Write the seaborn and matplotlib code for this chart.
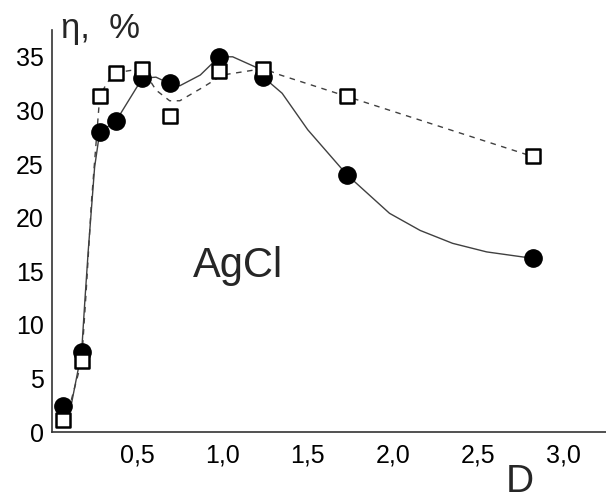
import matplotlib
matplotlib.use("Agg")
import matplotlib.pyplot as plt
import seaborn as sns
import pandas as pd

sns.set_style("white")
plt.rcParams['font.family'] = ['Liberation Sans', 'DejaVu Sans']

# measured points
d_pts = [0.063, 0.174, 0.28, 0.375, 0.53, 0.69, 0.98, 1.24, 1.73, 2.82]
eta_circ = [2.4, 7.5, 28.0, 29.0, 33.0, 32.6, 35.0, 33.1, 24.0, 16.2]
eta_sq = [1.1, 6.6, 31.3, 33.5, 33.9, 29.5, 33.7, 33.9, 31.3, 25.7]

# fitted curves
curve_solid_x = [0.063, 0.115, 0.174, 0.193, 0.213, 0.25, 0.28, 0.375, 0.53, 0.61,
                 0.69, 0.75, 0.87, 0.98, 1.06, 1.20, 1.24, 1.35, 1.50, 1.73,
                 1.98, 2.16, 2.35, 2.55, 2.82]
curve_solid_y = [2.4, 2.7, 7.5, 12.3, 17.0, 24.7, 28.0, 29.0, 33.0, 33.1,
                 32.5, 32.3, 33.3, 35.0, 35.0, 34.0, 33.1, 31.6, 28.2, 24.0,
                 20.4, 18.8, 17.6, 16.8, 16.2]
curve_dash_x = [0.063, 0.10, 0.174, 0.20, 0.232, 0.28, 0.32, 0.37, 0.53, 0.61,
                0.69, 0.75, 0.89, 1.0, 1.12, 1.24, 1.34, 1.73, 2.82]
curve_dash_y = [1.1, 2.2, 6.6, 13.0, 21.6, 31.3, 32.5, 33.5, 33.9, 31.9,
                30.9, 30.9, 32.2, 33.3, 33.6, 33.9, 33.3, 31.3, 25.7]

xticks = [0.5, 1.0, 1.5, 2.0, 2.5, 3.0]
xtick_labels = ["0,5", "1,0", "1,5", "2,0", "2,5", "3,0"]
yticks = [0, 5, 10, 15, 20, 25, 30, 35]

pts = pd.DataFrame({"D": d_pts, "circ": eta_circ, "sq": eta_sq})
solid = pd.DataFrame({"D": curve_solid_x, "eta": curve_solid_y})
dash = pd.DataFrame({"D": curve_dash_x, "eta": curve_dash_y})

fig = plt.figure(figsize=(6.06, 4.99), dpi=100)
ax = fig.add_axes([52 / 606, 67 / 499, 554 / 606, 402 / 499])

sns.lineplot(data=solid, x="D", y="eta", ax=ax, sort=False, color="#404040",
             lw=1.0, zorder=2)
sns.lineplot(data=dash, x="D", y="eta", ax=ax, sort=False, color="#404040",
             lw=1.0, dashes=False, zorder=2, linestyle=(0, (4, 4)))
sns.scatterplot(data=pts, x="D", y="circ", ax=ax, marker="o", s=155,
                color="black", edgecolor="black", zorder=3)
sns.scatterplot(data=pts, x="D", y="sq", ax=ax, marker="s", s=110,
                facecolor="white", edgecolor="black", linewidth=1.8, zorder=4)

ax.set_xlim(0, 3.25)
ax.set_ylim(0, 37.5)
ax.set_xticks(xticks)
ax.set_xticklabels(xtick_labels)
ax.set_yticks(yticks)
ax.set_xlabel("")
ax.set_ylabel("")
ax.tick_params(direction="in", length=6, width=1, color="#333333",
               labelsize=18, labelcolor="black")
ax.tick_params(axis="y", pad=6)
ax.tick_params(axis="x", pad=8)
for s in ["top", "right"]:
    ax.spines[s].set_visible(False)
for s in ["left", "bottom"]:
    ax.spines[s].set_color("#333333")
    ax.spines[s].set_linewidth(1.2)

ax.text(0.826, 14.5, "AgCl", fontsize=30, ha="left", va="baseline")
fig.text(61 / 606, 1 - 38 / 499, "η,  %", fontsize=25, ha="left", va="baseline")
fig.text(520 / 606, 7 / 499, "D", fontsize=28, ha="center", va="baseline")

fig.savefig("out.png", dpi=100)
